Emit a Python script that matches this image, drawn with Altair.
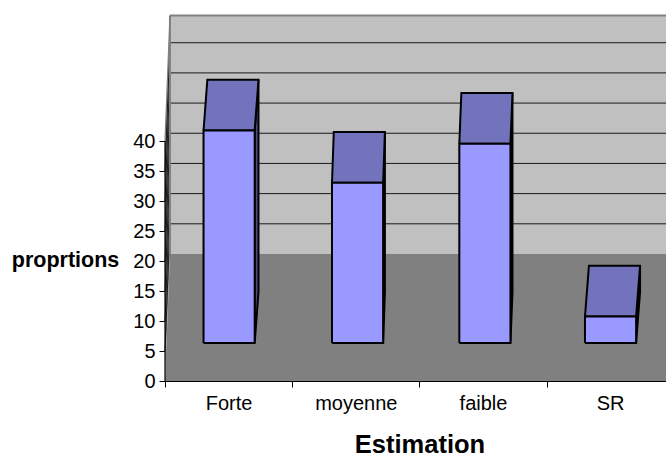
import json
import altair as alt
import pandas as pd

# Share of answers per estimation level
categories = ["Forte", "moyenne", "faible", "SR"]
values = [35.4, 26.7, 33.2, 4.4]
y_ticks = [0, 5, 10, 15, 20, 25, 30, 35, 40]

# Scene geometry, in axis units (x: one category = 1, y: proportion points)
x_max = 3.939
y_max = 63.5
floor_depth_y = 21.17
floor_depth_x = 0.039
wall_top = 60.9
wall_step = 5.03
bar_base = 6.33
bar_lefts = [0.303, 1.313, 2.314, 3.302]
bar_width = 0.402
bar_depth_y = 8.47
bar_depths_x = [0.03, 0.014, 0.016, 0.031]

FRONT = "#9999FF"
TOP = "#7373BD"
SIDE = "#4D4D80"
WALL = "#C0C0C0"
FLOOR = "#808080"
FONT = "Liberation Sans"

x_scale = alt.Scale(domain=[0, x_max], nice=False, zero=False)
y_scale = alt.Scale(domain=[0, y_max], nice=False, zero=False)

label_expr = "%s[datum.value]" % json.dumps(categories)

# Every layer shares these two axis definitions so they merge into one
x_axis = alt.Axis(
    values=[0, 1, 2, 3], labelExpr=label_expr, labelOffset=63.6, labelFont=FONT,
    labelFontSize=20, labelColor="black", labelPadding=6, labelFlush=False,
    labelOverlap=False, tickSize=6, tickColor="black", tickWidth=1, grid=False,
    domain=True, domainColor="black", domainWidth=1.2, zindex=1,
    title="Estimation", titleFont=FONT, titleFontSize=25.5, titleFontWeight="bold",
    titleColor="black", titleX=254.5, titleY=63, titleBaseline="middle",
)
y_axis = alt.Axis(
    values=y_ticks, labelFont=FONT, labelFontSize=20, labelColor="black",
    labelPadding=4, tickSize=6, tickColor="black", tickWidth=1, grid=False,
    domain=False, labelFlush=False, labelOverlap=False,
    title="proprtions", titleFont=FONT, titleFontSize=21.5, titleFontWeight="bold",
    titleColor="black", titleAngle=0, titleAlign="center", titleBaseline="middle",
    titleX=-100, titleY=260,
)


def outline(points, color="black", width=1.6):
    """Closed polyline through (x, y) points."""
    pts = points + points[:1]
    df = pd.DataFrame({"px": [p[0] for p in pts], "py": [p[1] for p in pts], "n": range(len(pts))})
    return alt.Chart(df).mark_line(color=color, strokeWidth=width, strokeJoin="miter").encode(
        x=alt.X("px:Q", scale=x_scale, axis=x_axis),
        y=alt.Y("py:Q", scale=y_scale, axis=y_axis),
        order="n:Q",
    )


def segment(x0, y0, x1, y1, color="black", width=1.0):
    df = pd.DataFrame({"px": [x0, x1], "py": [y0, y1], "n": [0, 1]})
    return alt.Chart(df).mark_line(color=color, strokeWidth=width).encode(
        x=alt.X("px:Q", scale=x_scale, axis=x_axis),
        y=alt.Y("py:Q", scale=y_scale, axis=y_axis),
        order="n:Q",
    )


def face_h(y0, xa0, xa1, y1, xb0, xb1, color):
    """Quad with two horizontal edges."""
    df = pd.DataFrame({"py": [y0, y1], "a": [xa0, xb0], "b": [xa1, xb1]})
    return alt.Chart(df).mark_area(orient="horizontal", color=color, opacity=1).encode(
        y=alt.Y("py:Q", scale=y_scale, axis=y_axis),
        x=alt.X("a:Q", scale=x_scale, axis=x_axis),
        x2="b:Q",
    )


def face_v(x0, ya0, ya1, x1, yb0, yb1, color):
    """Quad with two vertical edges."""
    df = pd.DataFrame({"px": [x0, x1], "a": [ya0, yb0], "b": [ya1, yb1]})
    return alt.Chart(df).mark_area(orient="vertical", color=color, opacity=1).encode(
        x=alt.X("px:Q", scale=x_scale, axis=x_axis),
        y=alt.Y("a:Q", scale=y_scale, axis=y_axis),
        y2="b:Q",
    )


# Back wall
layers = [face_h(floor_depth_y, floor_depth_x, x_max, wall_top, floor_depth_x, x_max, WALL)]

# Floor and narrow side wall
layers.append(face_h(0, 0, x_max, floor_depth_y, floor_depth_x, x_max, FLOOR))
layers.append(face_v(0, 0, 40, floor_depth_x, floor_depth_y, wall_top, FLOOR))

# Gridlines across the wall and down the side wall
for k in range(1, 8):
    level = floor_depth_y + k * wall_step
    layers.append(segment(floor_depth_x, level, x_max, level, "#1a1a1a", 1.0))
    layers.append(segment(0, k * 5, floor_depth_x, level, "#1a1a1a", 1.0))

# Wall frame
layers.append(segment(floor_depth_x, wall_top, x_max, wall_top, FLOOR, 2))
layers.append(segment(floor_depth_x, floor_depth_y, floor_depth_x, wall_top, FLOOR, 2))
layers.append(segment(0, 0, 0, 40, "black", 1.2))
layers.append(segment(0, 40, floor_depth_x, wall_top, FLOOR, 1.2))

# One box per category
for v, x0, dx in zip(values, bar_lefts, bar_depths_x):
    x1 = x0 + bar_width
    top = bar_base + v
    layers.append(face_v(x1, bar_base, top, x1 + dx, bar_base + bar_depth_y, top + bar_depth_y, SIDE))
    layers.append(outline([(x1, bar_base), (x1 + dx, bar_base + bar_depth_y),
                           (x1 + dx, top + bar_depth_y), (x1, top)], width=2))
    layers.append(face_h(top, x0, x1, top + bar_depth_y, x0 + dx, x1 + dx, TOP))
    layers.append(outline([(x0, top), (x1, top), (x1 + dx, top + bar_depth_y),
                           (x0 + dx, top + bar_depth_y)], width=2))
    layers.append(face_h(bar_base, x0, x1, top, x0, x1, FRONT))
    layers.append(outline([(x0, bar_base), (x1, bar_base), (x1, top), (x0, top)], width=2))

chart = alt.layer(*layers).properties(
    width=501,
    height=381,
    padding={"left": 165, "top": 0, "right": 0, "bottom": 77},
    autosize=alt.AutoSizeParams(type="none"),
    background="white",
).configure_view(stroke=None)

chart.save("out.html", embed_options={"renderer": "svg", "actions": False})
